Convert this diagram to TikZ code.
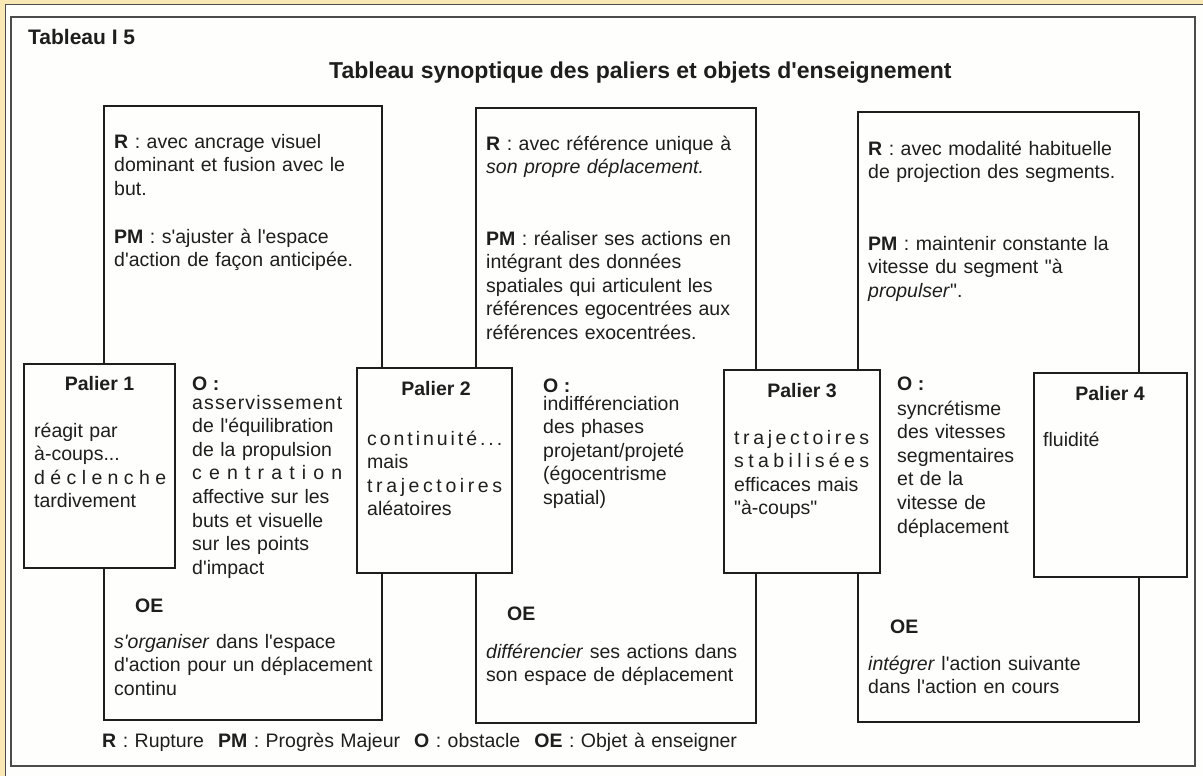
\documentclass[tikz,border=0pt]{standalone}
\usepackage{fontspec}
\setmainfont{Liberation Sans}[Ligatures=TeXOff]
\usepackage{tikz}
\definecolor{frameyellow}{RGB}{250,232,180}
\definecolor{paper}{RGB}{254,254,252}
\definecolor{ink}{RGB}{30,30,30}
\makeatletter
% spreads the letters of one word over the whole line
\newcommand\lspread[1]{\leavevmode\hbox to\linewidth{\@tfor\ltr:=#1\do{\ltr\hfil}\unskip}}
\makeatother
% spreads the words of a line over the whole line
\newcommand\wspread[1]{\makebox[\linewidth][s]{#1}}
\tikzset{
  box/.style={draw=ink, line width=1.4pt},
  palierbox/.style={draw=ink, line width=1.4pt, fill=paper},
  txt/.style={font=\fontsize{19.5}{23.6}\selectfont, text=ink, inner sep=0pt,
    anchor=base west, align=left, text width=#1},
  txt/.default=300pt,
  lbl/.style={font=\fontsize{19.5}{23.6}\selectfont\bfseries, text=ink, inner sep=0pt, anchor=base west},
  palier/.style={font=\fontsize{19.5}{23.6}\selectfont\bfseries, text=ink, inner sep=0pt, anchor=base},
  head/.style={font=\fontsize{#1}{24}\selectfont\bfseries, text=ink, inner sep=0pt, anchor=base west},
  head/.default=21
}

\begin{document}
\begin{tikzpicture}[x=1pt,y=-1pt]
\useasboundingbox (0,0) rectangle (1203,776);
%%% Draws the sheet
\fill[frameyellow] (0,0) rectangle (1203,776);
\draw[fill=paper, draw=black!70, line width=1pt] (5,5) rectangle (1206,779);
\draw[draw=ink!80, line width=1.2pt] (11,17) rectangle (1195,766);
% titles
\node[head] (tabnum) at (28,45) {Tableau I 5};
\node[head=23] (title) at (329,78) {Tableau synoptique des paliers et objets d'enseignement};
%%% Draws the three columns
\draw[box] (104,106) rectangle (382,720);
\draw[box] (476,108) rectangle (756,723);
\draw[box] (858,112) rectangle (1139,722);
% draws the paliers over them
\draw[palierbox] (24,364) rectangle (175,568);
\draw[palierbox] (357,368) rectangle (512,573);
\draw[palierbox] (724,370) rectangle (880,573);
\draw[palierbox] (1034,373) rectangle (1187,577);
%%% R and PM
\node[txt] (rA) at (114,148) {\textbf{R} : avec ancrage visuel\\ dominant et fusion avec le\\ but.};
\node[txt] (pmA) at (114,243) {\textbf{PM} : s'ajuster à l'espace\\ d'action de façon anticipée.};
\node[txt] (rB) at (486,150) {\textbf{R} : avec référence unique à\\ \textit{son propre déplacement.}};
\node[txt] (pmB) at (486,245) {\textbf{PM} : réaliser ses actions en\\ intégrant des données\\ spatiales qui articulent les\\ références egocentrées aux\\ références exocentrées.};
\node[txt] (rC) at (868,155) {\textbf{R} : avec modalité habituelle\\ de projection des segments.};
\node[txt] (pmC) at (868,250) {\textbf{PM} : maintenir constante la\\ vitesse du segment "à\\ \textit{propulser}".};
%%% Paliers
\node[palier] (palA) at (99.5,390) {Palier 1};
\node[palier] (palB) at (436,395) {Palier 2};
\node[palier] (palC) at (802,397) {Palier 3};
\node[palier] (palD) at (1110,400) {Palier 4};
\node[txt=132pt] (palAtext) at (34,437) {réagit par\\ à-coups...\\ \lspread{déclenche}\\ tardivement};
\node[txt=135pt] (palBtext) at (367,445) {\lspread{continuité...}\\ mais\\ \lspread{trajectoires}\\ aléatoires};
\node[txt=135pt] (palCtext) at (734,444) {\lspread{trajectoires}\\ \lspread{stabilisées}\\ \wspread{efficaces mais}\\ "à-coups"};
\node[txt] (palDtext) at (1043,446) {fluidité};
%%% Obstacles
\node[lbl] (oA) at (192,390) {O :};
\node[lbl] (oB) at (543,392) {O :};
\node[lbl] (oC) at (897,390) {O :};
\node[txt=150pt] (oAtext) at (192,409) {\lspread{asservissement}\\ \wspread{de l'équilibration}\\ de la propulsion\\ \lspread{centration}\\ \wspread{affective sur les}\\ \wspread{buts et visuelle}\\ \wspread{sur les points}\\ d'impact};
\node[txt] (oBtext) at (543,410) {indifférenciation\\ des phases\\ projetant/projeté\\ (égocentrisme\\ spatial)};
\node[txt] (oCtext) at (897,415) {syncrétisme\\ des vitesses\\ segmentaires\\ et de la\\ vitesse de\\ déplacement};
%%% Objets a enseigner
\node[lbl] (oeA) at (135,612) {OE};
\node[lbl] (oeB) at (507,620) {OE};
\node[lbl] (oeC) at (890,633) {OE};
\node[txt] (oeAtext) at (114,648) {\textit{s'organiser} dans l'espace\\ d'action pour un déplacement\\ continu};
\node[txt] (oeBtext) at (486,658) {\textit{différencier} ses actions dans\\ son espace de déplacement};
\node[txt] (oeCtext) at (868,670) {\textit{intégrer} l'action suivante\\ dans l'action en cours};
% legend
\node[txt=700pt] (legend) at (102,747) {\textbf{R} : Rupture\hspace{14pt}\textbf{PM} : Progrès Majeur\hspace{14pt}\textbf{O} : obstacle\hspace{14pt}\textbf{OE} : Objet à enseigner};
\end{tikzpicture}
\end{document}
